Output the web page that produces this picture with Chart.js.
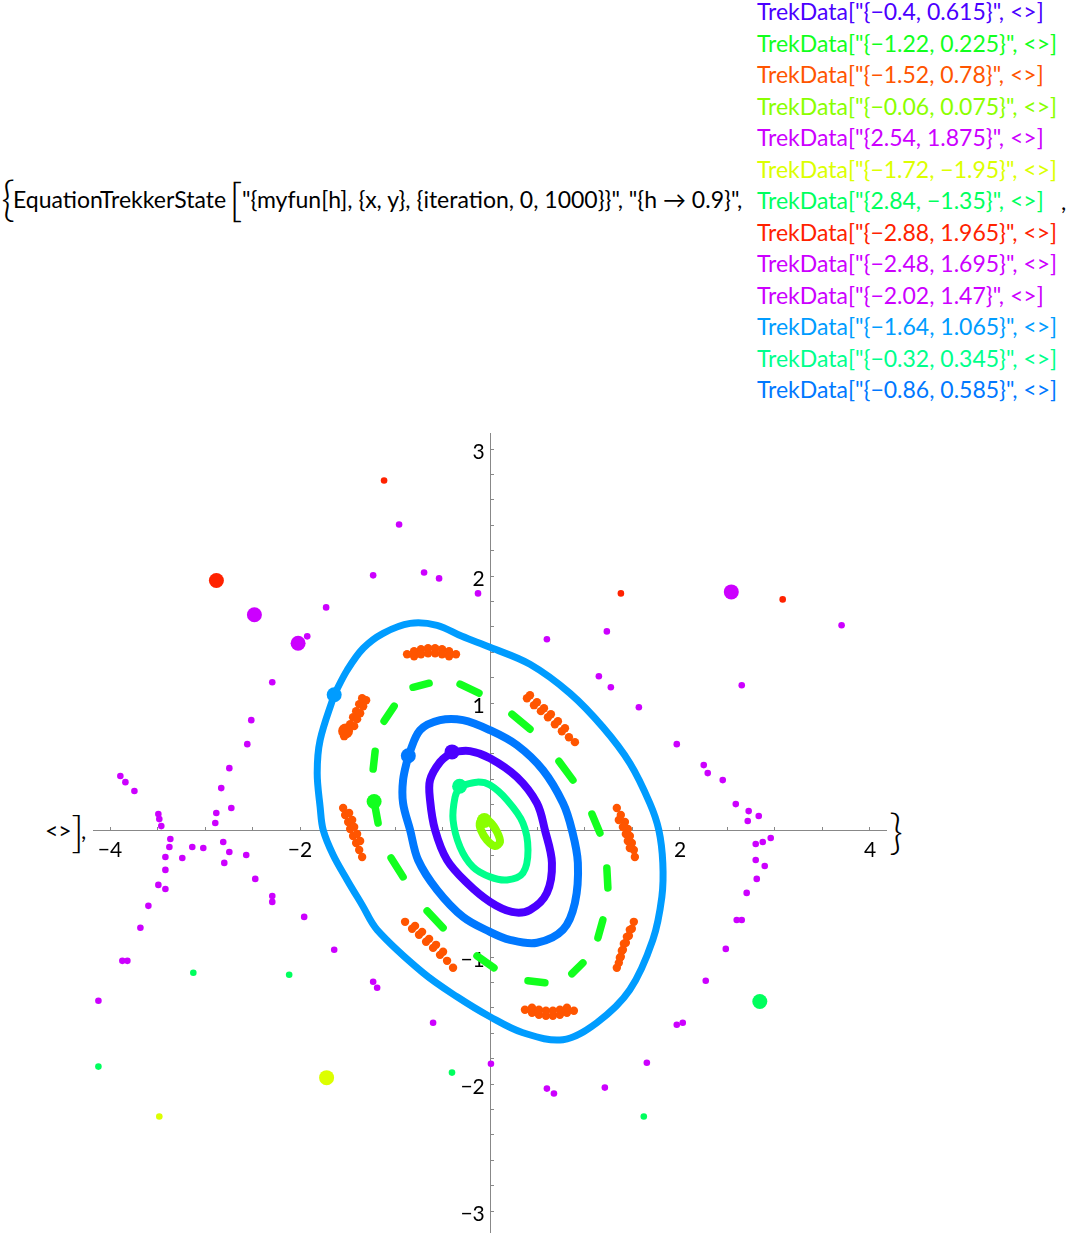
<!DOCTYPE html>
<html>
<head>
<meta charset="utf-8">
<script src="https://cdn.jsdelivr.net/npm/chart.js@4"></script>
<style>
  body { margin: 0; background: #fff; width: 1071px; height: 1237px; position: relative; overflow: hidden;
         font-family: 'Lato', 'Noto Sans', sans-serif; color: #000; }
  .t { position: absolute; white-space: pre; font-size: 23px; line-height: 31.5px; }
  .big { position: absolute; white-space: pre; line-height: 1; font-weight: 300; }
  #right { position: absolute; left: 757px; top: -4px; }
  #plotBox { position: absolute; left: 93px; top: 433px; width: 794px; height: 800px; }
</style>
</head>
<body>
<div class="big" style="left:1px;top:174px;font-size:48px;">{</div>
<div class="t" style="left:13px;top:184px;">EquationTrekkerState</div>
<div class="big" style="left:229px;top:176px;font-size:46px;">[</div>
<div class="t" style="left:242px;top:184px;">"{myfun[h], {x, y}, {iteration, 0, 1000}}", "{h → 0.9}",</div>
<div id="right"></div>
<div class="t" style="left:1061px;top:186px;">,</div>
<div class="t" style="left:45px;top:815px;">&lt;&gt;</div>
<div class="big" style="left:71px;top:809px;font-size:44px;">]</div>
<div class="t" style="left:81px;top:815px;">,</div>
<div class="big" style="left:889px;top:807px;font-size:48px;">}</div>
<div id="plotBox"><canvas id="plot" width="794" height="800"></canvas></div>
<script>
// initial points of the 13 orbits (TrekData) and their colours
const trekX = [-0.4, -1.22, -1.52, -0.06, 2.54, -1.72, 2.84, -2.88, -2.48, -2.02, -1.64, -0.32, -0.86];
const trekY = [0.615, 0.225, 0.78, 0.075, 1.875, -1.95, -1.35, 1.965, 1.695, 1.47, 1.065, 0.345, 0.585];
const trekColors = ['#4b00ff', '#12ff1e', '#ff5500', '#8aff00', '#cc00ff', '#dcff00', '#00ff5e',
                    '#ff2200', '#cc00ff', '#cc00ff', '#009cff', '#00ff8c', '#0078ff'];

// closed invariant curves
const outerOrbit = [[-1.64,1.065],[-1.504,1.258],[-1.335,1.431],[-1.125,1.549],[-0.841,1.627],[-0.557,1.612],
  [-0.294,1.525],[0,1.439],[0.421,1.305],[0.841,1.077],[1.188,0.81],[1.472,0.527],[1.682,0.212],[1.777,0],
  [1.819,-0.259],[1.809,-0.527],[1.714,-0.865],[1.472,-1.258],[1.125,-1.517],[0.768,-1.651],[0.347,-1.596],
  [0,-1.47],[-0.347,-1.313],[-0.705,-1.124],[-1.188,-0.786],[-1.346,-0.59],[-1.504,-0.393],[-1.651,-0.197],
  [-1.756,0],[-1.788,0.181],[-1.819,0.448],[-1.788,0.708],[-1.64,1.065]];
const middleOrbit = [[-0.86,0.585],[-0.736,0.786],[-0.526,0.865],[-0.284,0.865],[0,0.786],[0.284,0.668],
  [0.557,0.472],[0.768,0.212],[0.862,0],[0.925,-0.259],[0.894,-0.574],[0.768,-0.786],[0.494,-0.888],
  [0.21,-0.865],[0,-0.802],[-0.284,-0.684],[-0.557,-0.472],[-0.757,-0.236],[-0.841,0],[-0.915,0.212],
  [-0.915,0.393],[-0.86,0.585]];
const violetOrbit = [[-0.4,0.615],[-0.21,0.621],[0,0.566],[0.284,0.417],[0.494,0.212],[0.578,0],[0.652,-0.259],
  [0.599,-0.495],[0.421,-0.629],[0.231,-0.645],[0,-0.566],[-0.242,-0.417],[-0.452,-0.236],[-0.578,0],
  [-0.631,0.236],[-0.631,0.393],[-0.526,0.535],[-0.4,0.615]];
const innerOrbit = [[-0.32,0.345],[-0.137,0.377],[0,0.354],[0.179,0.236],[0.347,0.055],[0.4,-0.157],
  [0.347,-0.338],[0.179,-0.393],[0,-0.369],[-0.179,-0.291],[-0.315,-0.134],[-0.389,0.079],[-0.368,0.259],[-0.32,0.345]];
const coreOrbit = [[-0.06,0.075],[0,0.063],[0.074,-0.016],[0.105,-0.094],[0.053,-0.126],[-0.032,-0.079],
  [-0.095,0],[-0.105,0.063],[-0.06,0.075]];

// island chain: short green arcs (start, end)
const greenDashes = [
  [[-1.22,0.225],[-1.178,0.055]], [[-1.041,-0.22],[-0.915,-0.369]], [[-0.662,-0.637],[-0.494,-0.77]],
  [[-0.137,-0.991],[0.042,-1.085]], [[0.4,-1.187],[0.578,-1.203]], [[0.862,-1.132],[0.978,-1.046]],
  [[1.136,-0.849],[1.188,-0.708]], [[1.241,-0.456],[1.23,-0.299]], [[1.157,-0.024],[1.073,0.126]],
  [[0.873,0.393],[0.726,0.542]], [[0.421,0.794],[0.231,0.912]], [[-0.116,1.077],[-0.315,1.148]],
  [[-0.641,1.156],[-0.81,1.124]], [[-1.009,0.975],[-1.115,0.857]], [[-1.209,0.621],[-1.23,0.48]]];

// orange island chain, 8 islands
const orangeIslands = [
  [-0.873,1.384],[-0.799,1.407],[-0.726,1.423],[-0.652,1.431],[-0.578,1.431],[-0.505,1.423],[-0.431,1.407],[-0.358,1.384],
  [-0.799,1.368],[-0.726,1.384],[-0.652,1.392],[-0.578,1.392],[-0.505,1.384],[-0.431,1.368],
  [-1.346,1.038],[-1.377,0.991],[-1.409,0.936],[-1.441,0.888],[-1.472,0.833],[-1.504,0.786],[-1.535,0.739],
  [-1.304,1.022],[-1.335,0.975],[-1.367,0.92],[-1.399,0.873],[-1.43,0.818],
  [0.389,1.038],[0.463,0.983],[0.536,0.936],[0.61,0.888],[0.683,0.833],[0.757,0.778],[0.831,0.731],[0.894,0.692],
  [0.421,1.061],[0.494,1.006],[0.568,0.959],[0.641,0.912],[0.715,0.857],[0.789,0.802],
  [1.335,0.173],[1.377,0.118],[1.42,0.063],[1.451,0.008],[1.472,-0.047],[1.493,-0.102],[1.514,-0.157],[1.525,-0.212],
  [1.356,0.079],[1.399,0.024],[1.43,-0.031],[1.451,-0.086],[1.472,-0.142],
  [-1.546,0.173],[-1.525,0.118],[-1.493,0.063],[-1.472,0.008],[-1.441,-0.047],[-1.409,-0.102],[-1.377,-0.157],[-1.346,-0.212],
  [-1.483,0.134],[-1.451,0.079],[-1.43,0.024],[-1.399,-0.031],[-1.367,-0.086],
  [-0.894,-0.723],[-0.82,-0.778],[-0.747,-0.825],[-0.673,-0.88],[-0.599,-0.928],[-0.526,-0.983],[-0.452,-1.03],[-0.389,-1.085],
  [-0.789,-0.755],[-0.715,-0.802],[-0.641,-0.857],[-0.568,-0.904],[-0.494,-0.959],
  [0.368,-1.415],[0.442,-1.439],[0.515,-1.454],[0.589,-1.462],[0.662,-1.462],[0.736,-1.454],[0.81,-1.439],[0.883,-1.423],
  [0.442,-1.399],[0.515,-1.415],[0.589,-1.423],[0.662,-1.423],[0.736,-1.415],[0.81,-1.399],
  [1.514,-0.723],[1.493,-0.778],[1.462,-0.833],[1.43,-0.888],[1.399,-0.943],[1.377,-0.998],[1.356,-1.046],[1.335,-1.085],
  [1.472,-0.786],[1.441,-0.841],[1.409,-0.896],[1.388,-0.951],[1.367,-1.006]];

// chaotic (purple) orbits
const chaosPoints = [
  [-0.957,2.406],[-1.23,2.005],[-0.694,2.028],[-0.536,1.981],[-0.126,1.863],[-1.725,1.753],[-1.924,1.525],
  [-2.292,1.164],[-2.513,0.865],[-2.555,0.676],[-2.744,0.487],[-2.829,0.33],[-2.723,0.173],[-2.881,0.134],
  [-2.892,0.055],[-3.891,0.425],[-3.838,0.377],[-3.743,0.307],[-3.491,0.126],[-3.481,0.086],[-3.46,0.031],
  [0.599,1.502],[1.23,1.564],[1.146,1.211],[1.272,1.124],[1.567,0.967],[1.966,0.676],[2.25,0.511],[2.292,0.448],
  [2.45,0.393],[2.587,0.204],[2.723,0.149],[2.829,0.11],[2.713,0.071],[2.65,1.14],[3.701,1.612],
  [-3.365,-0.071],[-3.375,-0.134],[-3.417,-0.212],[-3.417,-0.314],[-3.491,-0.432],[-3.417,-0.464],[-3.596,-0.597],
  [-3.68,-0.77],[-3.87,-1.03],[-3.817,-1.03],[-4.122,-1.344],[-3.134,-0.134],[-3.239,-0.22],[-3.018,-0.142],
  [-2.808,-0.094],[-2.744,-0.173],[-2.797,-0.259],[-2.566,-0.197],[-2.471,-0.385],[-2.292,-0.519],[-2.292,-0.566],
  [-1.956,-0.684],[-1.64,-0.943],[-1.23,-1.195],[-1.188,-1.242],[-0.599,-1.517],[0.01,-1.84],
  [2.797,-0.11],[2.871,-0.094],[2.955,-0.063],[2.797,-0.236],[2.892,-0.283],[2.808,-0.385],[2.702,-0.495],
  [2.597,-0.708],[2.65,-0.708],[2.482,-0.936],[2.271,-1.187],[1.966,-1.533],[2.029,-1.517],[1.651,-1.832],
  [1.209,-2.028],[0.599,-2.036],[0.673,-2.075]];
const redPoints = [[-1.115,2.752],[1.378,1.863],[3.081,1.816]];
const springPoints = [[-3.123,-1.124],[-2.114,-1.14],[-4.122,-1.863],[-0.4,-1.91],[1.619,-2.256]];
const yellowPoints = [[-3.481,-2.256]];

// axes
const xRange = [-4.179, 4.179];
const yRange = [-3.173, 3.126];
const xTickValues = [-4, -3.5, -3, -2.5, -2, -1.5, -1, -0.5, 0, 0.5, 1, 1.5, 2, 2.5, 3, 3.5, 4];
const xTickLabels = [-4, -2, 2, 4];
const yTickLabels = [-3, -2, -1, 1, 2, 3];
const yTickValues = [];
for (let i = -15; i <= 15; i++) yTickValues.push(i / 5);

function fmt(v) {
  return String(v).replace('-', '\u2212');
}

document.getElementById('right').innerHTML = trekX.map((x, i) =>
  '<div class="t" style="position:relative;color:' + trekColors[i] + '">TrekData["{' + fmt(x) + ', ' + fmt(trekY[i]) + '}", &lt;&gt;]</div>'
).join('');

const pts = arr => arr.map(p => ({x: p[0], y: p[1]}));

function curve(arr, color, width) {
  return {data: pts(arr), showLine: true, borderColor: color, borderWidth: width, pointRadius: 0,
          tension: 0.35, borderCapStyle: 'round', borderJoinStyle: 'round', clip: false};
}
function dots(arr, color, r) {
  return {data: pts(arr), backgroundColor: color, borderWidth: 0, pointRadius: r, clip: false};
}

const datasets = [];
// start markers first so they sit on top
datasets.push({data: trekX.map((x, i) => ({x: x, y: trekY[i]})), backgroundColor: trekColors,
               borderWidth: 0, pointRadius: 7.5, clip: false});
datasets.push(curve(coreOrbit, trekColors[3], 8));
datasets.push(curve(innerOrbit, trekColors[11], 7));
datasets.push(curve(violetOrbit, trekColors[0], 8));
datasets.push(curve(middleOrbit, trekColors[12], 8));
datasets.push(curve(outerOrbit, trekColors[10], 7));
greenDashes.forEach(d => datasets.push({data: pts(d), showLine: true, borderColor: trekColors[1], borderWidth: 7.5,
  pointRadius: 0, borderCapStyle: 'round', clip: false}));
datasets.push(dots(orangeIslands, trekColors[2], 4.2));
datasets.push(dots(chaosPoints, trekColors[4], 3.3));
datasets.push(dots(redPoints, trekColors[7], 3.3));
datasets.push(dots(springPoints, trekColors[6], 3.3));
datasets.push(dots(yellowPoints, trekColors[5], 3.3));

const tickFont = {family: 'Lato', size: 21};

// axes cross at the origin and take no room from the plot
function noRoom(s) {
  if (s.axis === 'x') s.height = 0; else s.width = 0;
  s.paddingTop = 0; s.paddingBottom = 0; s.paddingLeft = 0; s.paddingRight = 0;
}

new Chart(document.getElementById('plot'), {
  type: 'scatter',
  data: {datasets: datasets},
  options: {
    responsive: false,
    animation: false,
    events: [],
    layout: {padding: 0, autoPadding: false},
    plugins: {legend: {display: false}, tooltip: {enabled: false}},
    scales: {
      x: {
        type: 'linear', min: xRange[0], max: xRange[1], position: {y: 0},
        afterBuildTicks: s => { s.ticks = xTickValues.map(v => ({value: v})); },
        afterFit: noRoom,
        grid: {drawOnChartArea: false, drawTicks: true, tickLength: -4, color: '#888'},
        border: {display: true, color: '#888', width: 1},
        ticks: {autoSkip: false, maxRotation: 0, padding: 12, color: '#000', font: tickFont,
                callback: v => xTickLabels.includes(v) ? fmt(v) : ''}
      },
      y: {
        type: 'linear', min: yRange[0], max: yRange[1], position: {x: 0},
        afterBuildTicks: s => { s.ticks = yTickValues.map(v => ({value: v})); },
        afterFit: noRoom,
        grid: {drawOnChartArea: false, drawTicks: true, tickLength: -4, color: '#888'},
        border: {display: true, color: '#888', width: 1},
        ticks: {autoSkip: false, padding: 8, labelOffset: 3, color: '#000', font: tickFont,
                callback: v => {
                  const r = Math.round(v);
                  return (Math.abs(v - r) < 1e-9 && yTickLabels.includes(r)) ? fmt(r) + '\u2005' : '';
                }}
      }
    }
  }
});
</script>
</body>
</html>
